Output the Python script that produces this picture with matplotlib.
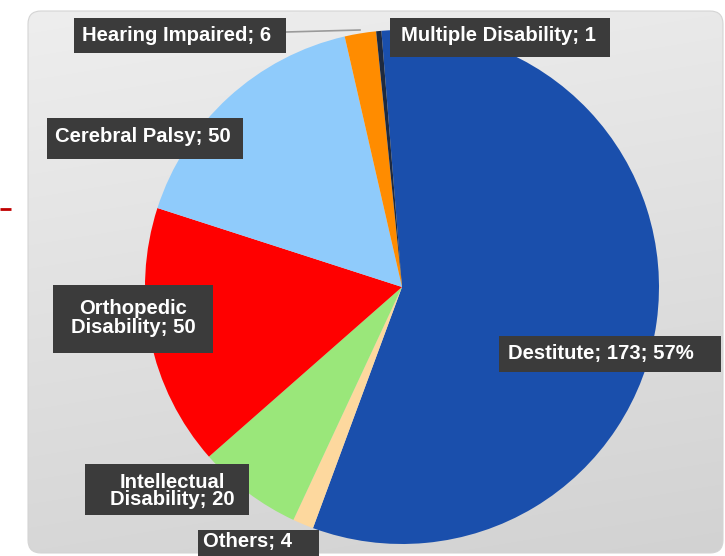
import numpy as np
import matplotlib
matplotlib.use("Agg")
import matplotlib.pyplot as plt
from matplotlib.patches import FancyBboxPatch, Rectangle

# ---- data ----
categories = ["Destitute", "Others", "Intellectual\nDisability", "Orthopedic\nDisability",
              "Cerebral Palsy", "Hearing Impaired", "Multiple Disability"]
values = [173, 4, 20, 50, 50, 6, 1]
colors = ["#1a4fac", "#fdd89e", "#9ae77a", "#ff0000", "#8fcbfb", "#ff8c00", "#1e2a40"]

total = sum(values)
labels = []
for i, (c, v) in enumerate(zip(categories, values)):
    if i == 0:
        labels.append(f"{c}; {v}; {round(100 * v / total)}%")
    else:
        labels.append(f"{c}; {v}")

# label boxes (pixel layout, y from top): x0, y0, x1, y1, text-center-x, text-center-y, linespacing
label_layout = [
    (499, 336, 721, 372, 601, 354, 1.0),
    (198, 530, 319, 560, 248, 542, 1.0),
    (85, 464, 249, 515, 172, 491, 0.92),
    (53, 285, 213, 353, 133, 318, 1.05),
    (47, 118, 243, 159, 143, 137, 1.0),
    (74, 18, 286, 53, 177, 35.5, 1.0),
    (390, 18, 610, 57, 499, 35.5, 1.0),
]

W, H = 725, 556
fig = plt.figure(figsize=(W / 100, H / 100), dpi=100)
ax = fig.add_axes([0, 0, 1, 1])

def Y(y):
    return H - y

# background panel with gradient
px0, py0, px1, py1 = 28, 11, 723, 553
panel = FancyBboxPatch((px0, Y(py1)), px1 - px0, py1 - py0,
                       boxstyle="round,pad=0,rounding_size=13",
                       facecolor="none", edgecolor="#d4d4d4", linewidth=0.8, zorder=1)
ax.add_patch(panel)
u = np.linspace(0, 1, 300)[None, :]
w = np.linspace(0, 1, 300)[:, None]
grad = 0.933 - 0.019 * u - 0.09 * w
img = ax.imshow(np.dstack([grad, grad, grad]), extent=(px0, px1, Y(py1), Y(py0)),
                origin="upper", zorder=0, aspect="auto", interpolation="bilinear")
img.set_clip_path(panel)

# decorative red line at far left
ax.plot([0, 11], [Y(209), Y(209)], color="#c00000", linewidth=2, solid_capstyle="butt", zorder=2)

# pie
wedges, _ = ax.pie(values, colors=colors, startangle=94.6, counterclock=False,
                   center=(402, Y(287)), radius=257,
                   wedgeprops=dict(linewidth=0, zorder=3))
for wdg in wedges:
    wdg.set_zorder(3)

# leader line for Hearing Impaired
ax.plot([286, 360], [Y(32), Y(30)], color="#9a9a9a", linewidth=1.2, zorder=4)

# labels
for lab, (x0, y0, x1, y1, tx, ty, ls) in zip(labels, label_layout):
    ax.add_patch(Rectangle((x0, Y(y1)), x1 - x0, y1 - y0, facecolor="#3b3b3b",
                           edgecolor="none", zorder=5))
    ax.text(tx, Y(ty), lab, ha="center", va="center", multialignment="center",
            color="white", fontsize=14.6, fontweight="bold", family="Liberation Sans",
            linespacing=ls, zorder=6)

ax.set_xlim(0, W)
ax.set_ylim(0, H)
ax.set_aspect("auto")
ax.axis("off")
fig.savefig("out.png", dpi=100, facecolor="white")
